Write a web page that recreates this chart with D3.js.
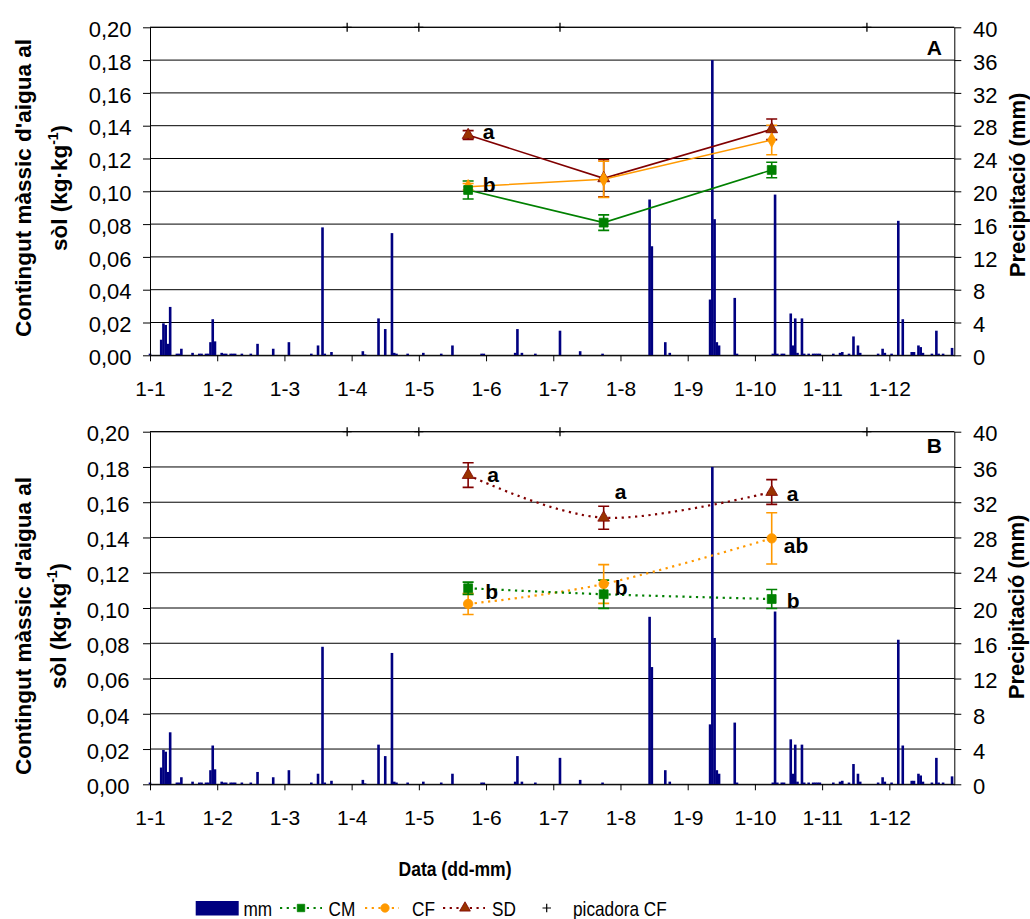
<!DOCTYPE html>
<html><head><meta charset="utf-8">
<script src="https://cdn.jsdelivr.net/npm/d3@7"></script>
<style>
html,body{margin:0;padding:0;background:#fff;}
svg{display:block;font-family:"Liberation Sans",Arial,sans-serif;}
</style></head>
<body><svg id="chart" width="1030" height="919"></svg>
<script>
// ---------------- DATA ----------------
// x axis: day index (category axis), ticks every 30 categories
const tickDays = [0, 30, 60, 90, 120, 150, 180, 210, 240, 270, 300, 330];
const monthLabels = ["1-1","1-2","1-3","1-4","1-5","1-6","1-7","1-8","1-9","1-10","1-11","1-12"];
const leftTicks = [0,0.02,0.04,0.06,0.08,0.10,0.12,0.14,0.16,0.18,0.20];
const rightTicks = [0,4,8,12,16,20,24,28,32,36,40];

// daily precipitation (mm)
const precipDay = [0,5,6,7,8,9,12,13,14,19,22,23,25,26,27,28,29,32,33,34,36,37,38,41,45,48,55,62,72,75,77,78,81,95,96,102,105,108,109,110,115,122,130,135,148,149,163,164,166,172,183,192,202,223,224,230,232,250,251,252,253,254,261,262,278,279,280,282,283,286,287,288,289,291,292,294,296,297,298,299,305,308,309,312,314,316,317,325,327,328,331,334,336,340,341,343,344,345,349,351,352,354,358];
const precipMm  = [0.2,1.9,3.9,3.7,1.4,5.9,0.2,0.2,0.8,0.3,0.2,0.2,0.2,0.2,1.6,4.4,1.7,0.3,0.2,0.2,0.2,0.2,0.2,0.2,0.2,1.4,0.8,1.6,0.2,1.2,15.6,0.2,0.4,0.5,0.1,4.5,3.2,14.9,0.3,0.2,0.2,0.3,0.2,1.2,0.2,0.2,0.3,3.2,0.3,0.2,3.0,0.5,0.2,19.0,13.3,1.6,0.3,6.8,36,16.6,1.6,1.2,7.0,0.2,0.2,19.6,0.2,0.2,0.2,5.1,1.2,4.5,0.3,4.5,0.2,0.2,0.2,0.2,0.2,0.2,0.2,0.3,0.4,0.2,2.3,1.2,0.3,0.2,0.8,0.3,0.2,16.4,4.4,0.4,0.4,1.2,1.0,0.3,0.2,3.0,0.2,0.2,0.9];

// sampling dates (day index)
const sampleDays = [142, 202.5, 277.5];
// Panel A
const cmA = [0.1008, 0.0809, 0.1130], cmAErr = [0.0055, 0.0047, 0.0047];
const cfA = [0.1028, 0.1073, 0.1313], cfAErr = [0.0020, 0.0110, 0.0090];
const sdA = [0.1343, 0.1079, 0.1378], sdAErr = [0.0027, 0.0113, 0.0063];
// Panel B
const cmB = [0.1112, 0.1078, 0.1051], cmBErr = [0.0035, 0.0080, 0.0054];
const cfB = [0.1023, 0.1136, 0.1395], cfBErr = [0.0060, 0.0110, 0.0145];
const sdB = [0.1754, 0.1512, 0.1658], sdBErr = [0.0070, 0.0065, 0.0070];

// "picadora CF" events (day index)
const picadoraDays = [88, 120, 183, 320];

// significance letters: day, value of letter centre, text
const lettersA = [
  {day:142, v:0.1363, t:"a"},
  {day:142, v:0.1038, t:"b"}
];
const lettersB = [
  {day:142, v:0.1754, t:"a"},
  {day:142, v:0.1092, t:"b"},
  {day:202.5, v:0.1660, t:"a"},
  {day:202.5, v:0.1113, t:"b"},
  {day:277.5, v:0.1647, t:"a"},
  {day:277.5, v:0.1352, t:"ab"},
  {day:277.5, v:0.1041, t:"b"}
];

// ---------------- DRAW ----------------
const svg = d3.select("#chart");
svg.append("rect").attr("width",1030).attr("height",919).attr("fill","#fff");

const locale = d3.formatLocale({decimal:",", thousands:".", grouping:[3], currency:["","€"]});
const f2 = locale.format(".2f");

const L = 150, R = 954.3;
const x = d3.scaleLinear().domain([0, 359]).range([L, R]);

const COL = {CM:"#008000", CF:"#FF9900", SD:"#800000", SDfill:"#993300", bar:"#000080"};

function panel(cfg){
  const {top, bottom, name, cm, cmE, cf, cfE, sd, sdE, dotted, letters, labelBase, titleC, titleR, letterDx} = cfg;
  const yL = d3.scaleLinear().domain([0,0.2]).range([bottom, top]);
  const yR = d3.scaleLinear().domain([0,40]).range([bottom, top]);
  const g = svg.append("g");

  // gridlines
  g.append("g").selectAll("line").data(leftTicks).join("line")
    .attr("x1", L).attr("x2", R).attr("y1", d=>yL(d)).attr("y2", d=>yL(d))
    .attr("stroke","#000").attr("stroke-width",1);

  // bars
  g.append("g").selectAll("rect").data(precipDay).join("rect")
    .attr("x", (d)=>x(d)-1.3).attr("width",2.6)
    .attr("y", (d,i)=>yR(precipMm[i])).attr("height",(d,i)=>bottom-yR(precipMm[i]))
    .attr("fill", COL.bar);

  // axes
  const axL = d3.axisLeft(yL).tickValues(leftTicks).tickFormat(f2).tickSize(7).tickSizeOuter(0);
  const gl = g.append("g").attr("transform",`translate(${L},0)`).call(axL);
  gl.selectAll("text").attr("x",-labelBase.lx).attr("dy","0.42em").style("font-size","22px").attr("fill","#000");
  const axR = d3.axisRight(yR).tickValues(rightTicks).tickSize(7).tickSizeOuter(0);
  const gr = g.append("g").attr("transform",`translate(${R},0)`).call(axR);
  gr.selectAll("text").attr("x",18.7).attr("dy","0.42em").style("font-size","22px").attr("fill","#000");
  const axB = d3.axisBottom(x).tickValues(tickDays).tickFormat((d,i)=>monthLabels[i]).tickSize(6).tickSizeOuter(0);
  const gb = g.append("g").attr("transform",`translate(0,${bottom})`).call(axB);
  gb.selectAll("text").attr("y",40.7).attr("dy",null).style("font-size","21px").attr("fill","#000");
  [gl,gr,gb].forEach(a=>{a.selectAll("path,line").attr("stroke","#000").attr("stroke-width",1); a.attr("font-family",null).attr("font-size",null);});
  // top border
  g.append("line").attr("x1",L).attr("x2",R).attr("y1",top).attr("y2",top).attr("stroke","#000");

  // picadora CF markers
  g.append("g").selectAll("path").data(picadoraDays).join("path")
    .attr("d", d=>`M${x(d)-4.5},${top}H${x(d)+4.5}M${x(d)},${top-4.5}V${top+4.5}`)
    .attr("stroke","#000").attr("stroke-width",1.3);

  // series
  const series = [
    {v:sd, e:sdE, col:COL.SD, fill:COL.SDfill, sym:d3.symbolTriangle, size:60},
    {v:cf, e:cfE, col:COL.CF, fill:COL.CF, sym: dotted ? d3.symbolCircle : d3.symbolDiamond, size: dotted?70:60},
    {v:cm, e:cmE, col:COL.CM, fill:COL.CM, sym:d3.symbolSquare, size:78}
  ];
  const line = d3.line().x((d,i)=>x(sampleDays[i])).y(d=>yL(d));
  if (dotted) line.curve(d3.curveCardinal);
  series.forEach(s=>{
    g.append("path").attr("d", line(s.v)).attr("fill","none").attr("stroke",s.col)
      .attr("stroke-width", dotted?2.2:1.6).attr("stroke-dasharray", dotted?"2.2,4.5":null);
  });
  series.forEach(s=>{
    const eg = g.append("g").attr("stroke",s.col).attr("stroke-width",1.6).attr("fill","none");
    s.v.forEach((v,i)=>{
      const cx = x(sampleDays[i]), y1 = yL(v+s.e[i]), y2 = yL(v-s.e[i]);
      eg.append("path").attr("d",`M${cx},${y1}V${y2}M${cx-5.5},${y1}H${cx+5.5}M${cx-5.5},${y2}H${cx+5.5}`);
    });
  });
  series.forEach(s=>{
    g.append("g").selectAll("path").data(s.v).join("path")
      .attr("transform",(d,i)=>`translate(${x(sampleDays[i])},${yL(d)})`)
      .attr("d", d3.symbol(s.sym, s.size)).attr("fill",s.fill).attr("stroke",s.col).attr("stroke-width",0.8);
  });

  // letters
  g.append("g").selectAll("text").data(letters).join("text")
    .attr("x", d=>x(d.day)+letterDx(d)).attr("y", d=>yL(d.v)).attr("dy","0.35em")
    .attr("font-weight","bold").style("font-size","21px").text(d=>d.t);

  // panel name
  g.append("text").attr("x",942).attr("y",top+labelBase.nameDy).attr("text-anchor","end")
    .attr("font-weight","bold").style("font-size","21px").text(name);

  // left title
  const tl = g.append("text").attr("transform",`translate(30.5,${titleC}) rotate(-90)`)
    .attr("text-anchor","middle").attr("font-weight","bold").style("font-size","22.5px");
  tl.text("Contingut màssic d'aigua al");
  const tl2 = g.append("text").attr("transform",`translate(${labelBase.l2},${titleC}) rotate(-90)`)
    .attr("text-anchor","middle").attr("font-weight","bold").style("font-size","22.5px");
  tl2.append("tspan").text("sòl (kg·kg");
  tl2.append("tspan").attr("dy","-9").style("font-size","14px").text("-1");
  tl2.append("tspan").attr("dy","9").text(")");
  // right title
  g.append("text").attr("transform",`translate(${labelBase.rx},${titleR}) rotate(-90)`)
    .attr("text-anchor","middle").attr("font-weight","bold").style("font-size","22px").text("Precipitació (mm)");
}

panel({top:27.3, bottom:355.3, name:"A", cm:cmA, cmE:cmAErr, cf:cfA, cfE:cfAErr, sd:sdA, sdE:sdAErr,
  dotted:false, letters:lettersA, labelBase:{lx:18.5, nameDy:28, l2:67, rx:1024.5}, titleC:188, titleR:185,
  letterDx:()=>14.5});
panel({top:431.7, bottom:784.3, name:"B", cm:cmB, cmE:cmBErr, cf:cfB, cfE:cfBErr, sd:sdB, sdE:sdBErr,
  dotted:true, letters:lettersB, labelBase:{lx:20.5, nameDy:21.5, l2:65.5, rx:1024}, titleC:626, titleR:607,
  letterDx:(d)=> d.day===142 ? (d.t==="a"?19:17) : d.day===202.5 ? 11 : (d.t==="ab"?12:15)});

// x title
svg.append("text").attr("transform","translate(455,876) scale(0.9,1)").attr("text-anchor","middle")
  .attr("font-weight","bold").style("font-size","19.5px").text("Data (dd-mm)");

// legend
const lg = svg.append("g");
const ly = 908;
lg.append("rect").attr("x",195.7).attr("y",901).attr("width",43).attr("height",14.5).attr("fill",COL.bar);
function legText(x0, t){ lg.append("text").attr("transform",`translate(${x0},${ly}) scale(0.82,1)`).attr("dy","0.36em").style("font-size","21px").text(t); }
legText(243.5,"mm");
const legItems = [
  {x1:280, x2:322, mx:301, col:COL.CM, fill:COL.CM, sym:d3.symbolSquare, size:55, label:"CM", tx:328.5},
  {x1:365, x2:399, mx:385, col:COL.CF, fill:COL.CF, sym:d3.symbolCircle, size:55, label:"CF", tx:412},
  {x1:443, x2:485, mx:465, col:COL.SD, fill:COL.SDfill, sym:d3.symbolTriangle, size:50, label:"SD", tx:492}
];
legItems.forEach(it=>{
  lg.append("line").attr("x1",it.x1).attr("x2",it.x2).attr("y1",ly).attr("y2",ly)
    .attr("stroke",it.col).attr("stroke-width",2.2).attr("stroke-dasharray","2.2,4.5");
  lg.append("path").attr("transform",`translate(${it.mx},${ly})`).attr("d",d3.symbol(it.sym,it.size))
    .attr("fill",it.fill).attr("stroke",it.col).attr("stroke-width",0.8);
  legText(it.tx, it.label);
});
lg.append("path").attr("d",`M${542.5},${ly}H${551}M${546.7},${ly-4.3}V${ly+4.3}`).attr("stroke","#000").attr("stroke-width",1.2);
legText(573,"picadora CF");
</script></body></html>
